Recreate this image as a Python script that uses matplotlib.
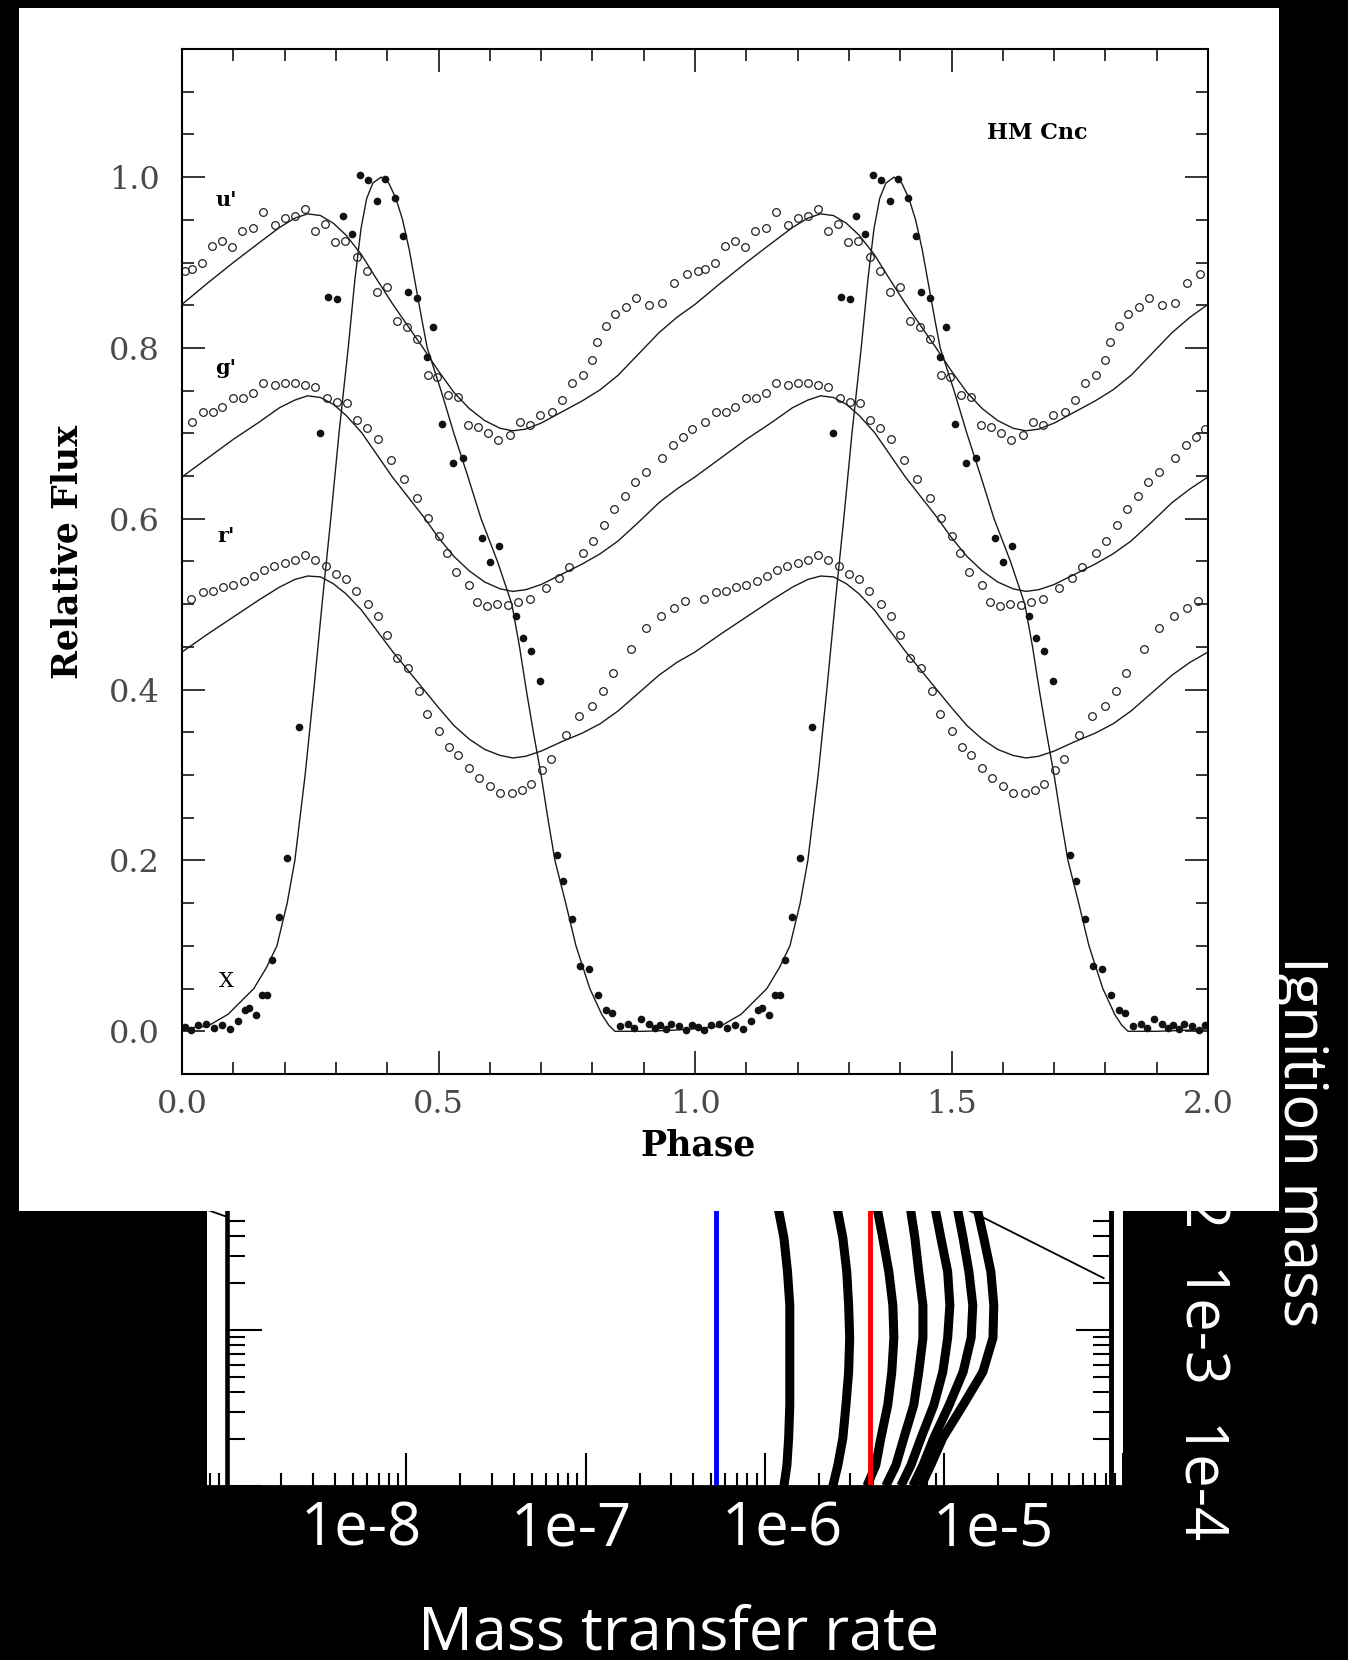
import matplotlib.pyplot as plt
import numpy as np
from matplotlib import patches
from matplotlib.ticker import MultipleLocator, LogLocator, NullFormatter, FuncFormatter, NullLocator

plt.rcParams["font.family"] = ["DejaVu Serif"]

# ---------------- HM Cnc light curve, one cycle (phase 0-1), drawn twice ----------------
model_phase = [0.00, 0.05, 0.10, 0.15, 0.19, 0.22, 0.245, 0.27, 0.295, 0.32, 0.35, 0.38, 0.41, 0.44,
               0.47, 0.50, 0.53, 0.56, 0.59, 0.62, 0.645, 0.67, 0.70, 0.74, 0.78, 0.815, 0.85, 0.89,
               0.93, 0.965]
u_model = [0.851, 0.876, 0.900, 0.923, 0.941, 0.952, 0.957, 0.955, 0.946, 0.932, 0.909, 0.880, 0.852,
           0.826, 0.800, 0.773, 0.748, 0.729, 0.715, 0.706, 0.703, 0.705, 0.712, 0.725, 0.738, 0.751,
           0.768, 0.793, 0.818, 0.836]
g_model = [0.649, 0.671, 0.693, 0.713, 0.730, 0.739, 0.744, 0.742, 0.734, 0.721, 0.701, 0.675, 0.649,
           0.626, 0.603, 0.578, 0.556, 0.539, 0.526, 0.518, 0.515, 0.517, 0.523, 0.535, 0.547, 0.559,
           0.574, 0.596, 0.619, 0.635]
r_model = [0.444, 0.465, 0.485, 0.505, 0.520, 0.529, 0.533, 0.532, 0.524, 0.512, 0.493, 0.469, 0.445,
           0.423, 0.401, 0.379, 0.358, 0.342, 0.330, 0.323, 0.320, 0.322, 0.328, 0.339, 0.349, 0.360,
           0.375, 0.396, 0.417, 0.432]

xray_model_phase = [0.00, 0.05, 0.09, 0.14, 0.165, 0.185, 0.205, 0.22, 0.24, 0.257, 0.273, 0.29, 0.306,
                    0.324, 0.337, 0.349, 0.360, 0.372, 0.388, 0.403, 0.417, 0.43, 0.443, 0.455, 0.467,
                    0.478, 0.505, 0.53, 0.557, 0.583, 0.615, 0.643, 0.658, 0.671, 0.685, 0.70, 0.713,
                    0.727, 0.748, 0.768, 0.795, 0.818, 0.832, 0.844, 0.90, 0.95]
xray_model = [0.003, 0.006, 0.020, 0.050, 0.075, 0.100, 0.150, 0.200, 0.300, 0.400, 0.500, 0.600, 0.700,
              0.800, 0.880, 0.940, 0.975, 0.993, 1.000, 0.993, 0.975, 0.950, 0.915, 0.875, 0.835,
              0.800, 0.750, 0.700, 0.650, 0.600, 0.550, 0.500, 0.450, 0.400, 0.350, 0.300, 0.250,
              0.200, 0.150, 0.100, 0.050, 0.020, 0.007, 0.000, 0.000, 0.001]

u_phase = [0.005, 0.020, 0.039, 0.058, 0.078, 0.097, 0.117, 0.138, 0.158, 0.181, 0.201, 0.220, 0.240,
           0.259, 0.279, 0.298, 0.318, 0.341, 0.360, 0.380, 0.400, 0.419, 0.439, 0.458, 0.480, 0.497,
           0.519, 0.538, 0.558, 0.577, 0.597, 0.616, 0.639, 0.659, 0.678, 0.698, 0.721, 0.741, 0.760,
           0.782, 0.799, 0.809, 0.826, 0.845, 0.865, 0.885, 0.910, 0.935, 0.960, 0.985]
u_flux = [0.890, 0.893, 0.900, 0.919, 0.925, 0.918, 0.937, 0.941, 0.959, 0.944, 0.952, 0.954, 0.963,
          0.937, 0.945, 0.924, 0.925, 0.907, 0.890, 0.866, 0.871, 0.831, 0.824, 0.810, 0.768, 0.766,
          0.745, 0.743, 0.710, 0.707, 0.700, 0.692, 0.698, 0.713, 0.710, 0.721, 0.725, 0.739, 0.759,
          0.768, 0.786, 0.807, 0.826, 0.840, 0.848, 0.858, 0.850, 0.853, 0.876, 0.887]

g_phase = [0.019, 0.041, 0.060, 0.078, 0.099, 0.119, 0.138, 0.158, 0.181, 0.200, 0.220, 0.240, 0.259,
           0.283, 0.302, 0.322, 0.341, 0.360, 0.382, 0.407, 0.433, 0.458, 0.480, 0.500, 0.517, 0.534,
           0.559, 0.575, 0.595, 0.615, 0.635, 0.655, 0.678, 0.709, 0.734, 0.754, 0.781, 0.802, 0.822,
           0.843, 0.864, 0.884, 0.905, 0.936, 0.957, 0.977, 0.994]
g_flux = [0.713, 0.725, 0.725, 0.731, 0.741, 0.741, 0.747, 0.759, 0.757, 0.759, 0.759, 0.757, 0.754,
          0.741, 0.737, 0.735, 0.716, 0.706, 0.693, 0.669, 0.646, 0.624, 0.601, 0.580, 0.560, 0.538,
          0.523, 0.503, 0.498, 0.500, 0.499, 0.503, 0.506, 0.519, 0.531, 0.543, 0.560, 0.574, 0.593,
          0.612, 0.627, 0.643, 0.655, 0.671, 0.686, 0.696, 0.705]

r_phase = [0.018, 0.040, 0.060, 0.080, 0.100, 0.120, 0.140, 0.160, 0.180, 0.200, 0.220, 0.240, 0.260,
           0.280, 0.300, 0.320, 0.340, 0.362, 0.382, 0.400, 0.419, 0.441, 0.462, 0.478, 0.500, 0.520,
           0.538, 0.559, 0.579, 0.600, 0.620, 0.643, 0.663, 0.680, 0.702, 0.720, 0.748, 0.774, 0.800,
           0.820, 0.840, 0.875, 0.905, 0.934, 0.959, 0.980]
r_flux = [0.506, 0.514, 0.516, 0.520, 0.522, 0.527, 0.533, 0.540, 0.545, 0.548, 0.552, 0.558, 0.552,
          0.545, 0.535, 0.530, 0.515, 0.500, 0.486, 0.464, 0.437, 0.425, 0.398, 0.371, 0.351, 0.333,
          0.324, 0.308, 0.296, 0.287, 0.279, 0.279, 0.283, 0.289, 0.306, 0.319, 0.347, 0.369, 0.381,
          0.398, 0.420, 0.448, 0.472, 0.486, 0.495, 0.504]

xray_phase = [0.006, 0.018, 0.031, 0.047, 0.062, 0.078, 0.094, 0.109, 0.122, 0.131, 0.144, 0.155, 0.165,
              0.176, 0.190, 0.205, 0.229, 0.269, 0.285, 0.302, 0.314, 0.331, 0.347, 0.363, 0.380, 0.396,
              0.415, 0.431, 0.441, 0.458, 0.477, 0.489, 0.506, 0.528, 0.547, 0.585, 0.600, 0.618, 0.651,
              0.664, 0.680, 0.698, 0.731, 0.743, 0.760, 0.776, 0.793, 0.810, 0.827, 0.838, 0.853, 0.869,
              0.882, 0.894, 0.911, 0.922, 0.932, 0.944, 0.953, 0.969, 0.982, 0.994]
xray_flux = [0.005, 0.002, 0.007, 0.009, 0.004, 0.007, 0.003, 0.012, 0.025, 0.027, 0.019, 0.042, 0.043,
             0.083, 0.134, 0.203, 0.356, 0.700, 0.860, 0.857, 0.954, 0.933, 1.002, 0.997, 0.972, 0.998,
             0.975, 0.931, 0.865, 0.859, 0.789, 0.825, 0.711, 0.665, 0.671, 0.577, 0.549, 0.568, 0.486,
             0.460, 0.445, 0.410, 0.206, 0.176, 0.131, 0.076, 0.073, 0.043, 0.025, 0.021, 0.006, 0.009,
             0.004, 0.014, 0.009, 0.004, 0.007, 0.003, 0.009, 0.006, 0.002, 0.007]

band_names = ["u'", "g'", "r'", "X"]
band_label_flux = [0.973, 0.777, 0.580, 0.058]

# ---------------- ignition mass vs mass transfer rate ----------------
ign_mass = [1.0e-2, 5.7e-3, 3.89e-3, 2.36e-3, 1.44e-3, 8.9e-4, 5.38e-4, 3.3e-4, 2.03e-4, 1.36e-4, 1.0e-4]
track_rates = [
    [1.10e-6, 1.20e-6, 1.28e-6, 1.34e-6, 1.38e-6, 1.38e-6, 1.38e-6, 1.38e-6, 1.36e-6, 1.33e-6, 1.28e-6],
    [2.40e-6, 2.56e-6, 2.73e-6, 2.87e-6, 2.94e-6, 2.98e-6, 2.94e-6, 2.84e-6, 2.73e-6, 2.56e-6, 2.40e-6],
    [4.00e-6, 4.28e-6, 4.56e-6, 4.93e-6, 5.19e-6, 5.26e-6, 5.12e-6, 4.86e-6, 4.45e-6, 4.17e-6, 3.72e-6],
    [6.20e-6, 6.55e-6, 6.89e-6, 7.24e-6, 7.64e-6, 7.64e-6, 7.24e-6, 6.79e-6, 5.98e-6, 5.40e-6, 4.74e-6],
    [8.50e-6, 9.02e-6, 9.62e-6, 1.05e-5, 1.08e-5, 1.05e-5, 9.86e-6, 8.79e-6, 7.45e-6, 6.55e-6, 5.75e-6],
    [1.13e-5, 1.20e-5, 1.28e-5, 1.38e-5, 1.45e-5, 1.42e-5, 1.28e-5, 1.07e-5, 8.79e-6, 7.64e-6, 6.71e-6],
    [1.45e-5, 1.55e-5, 1.67e-5, 1.83e-5, 1.90e-5, 1.88e-5, 1.65e-5, 1.28e-5, 9.86e-6, 8.45e-6, 7.45e-6],
]
blue_rate = 5.32e-7
red_rate = 3.86e-6
diag_rate = [1.18e-5, 7.8e-5]
diag_mass = [6.4e-3, 2.15e-3]
edge_rate = [7.7e-10, 1.0e-9]
edge_mass = [5.9e-3, 5.3e-3]
rate_labels = [1e-8, 1e-7, 1e-6, 1e-5]

W, H = 1348, 1660


def rect(x0, y0, x1, y1):
    return [x0 / W, 1 - y1 / H, (x1 - x0) / W, (y1 - y0) / H]


def two_cycles(phase, vals, close=False):
    p = np.concatenate([phase, np.asarray(phase) + 1.0])
    v = np.concatenate([vals, vals])
    if close:
        p = np.append(p, 2.0)
        v = np.append(v, vals[0])
    return p, v


fig = plt.figure(figsize=(W / 100, H / 100), dpi=100, facecolor="black")

# ---- lower (background) plot ----
low = fig.add_axes(rect(207, 1100, 1123, 1486))
low.set_facecolor("white")
low.set_xscale("log")
low.set_yscale("log")
for rates in track_rates:
    low.plot(rates, ign_mass, color="black", lw=6.5, solid_capstyle="butt")
low.axvline(blue_rate, color="#0000ff", lw=3.5)
low.axvline(red_rate, color="#ff0000", lw=3.5)
low.plot(diag_rate, diag_mass, color="black", lw=1.3)
low.plot(edge_rate, edge_mass, color="black", lw=1.3)
low.set_xlim(7.7e-10, 1.0e-4)
low.set_ylim(1e-4, 2.98e-2)

low.spines["top"].set_visible(False)
low.spines["left"].set_position(("data", 1e-9))
low.spines["right"].set_position(("data", 8.57e-5))
low.spines["left"].set_linewidth(3.3)
low.spines["right"].set_linewidth(3.5)
low.spines["bottom"].set_linewidth(2)

low.xaxis.set_major_locator(LogLocator(base=10, numticks=30))
low.xaxis.set_minor_locator(LogLocator(base=10, subs=np.arange(2, 10), numticks=30))
low.xaxis.set_minor_formatter(NullFormatter())
low.yaxis.set_major_locator(LogLocator(base=10, numticks=30))
low.yaxis.set_minor_locator(LogLocator(base=10, subs=np.arange(2, 10), numticks=30))
low.yaxis.set_minor_formatter(NullFormatter())
low.yaxis.set_major_formatter(FuncFormatter(lambda v, pos: f"1e{int(round(np.log10(v)))}"))

low.tick_params(axis="x", which="major", direction="in", length=24, width=1.5,
                top=False, labelbottom=False)
low.tick_params(axis="x", which="minor", direction="in", length=9.5, width=1.5, top=False)
low.tick_params(axis="y", which="major", direction="in", length=25, width=1.5,
                left=True, right=True, labelleft=False, labelright=True,
                labelsize=43, labelcolor="white", labelrotation=-90, pad=40)
low.tick_params(axis="y", which="minor", direction="in", length=13, width=1.5, left=True, right=True)
for t in low.yaxis.get_major_ticks():
    t.label2.set_fontfamily("Open Sans")
    t.label2.set_va("center")

low.set_ylabel("Ignition mass", fontsize=43, color="white", rotation=-90, fontfamily="Open Sans")
low.yaxis.set_label_position("right")
low.yaxis.set_label_coords((1300 - 207) / 916, (1486 - 1141) / 386)
low.yaxis.label.set_va("center")
low.yaxis.label.set_ha("center")

# tick labels of the rate axis as they sit in the picture
lab = fig.add_axes(rect(207, 1100, 1123, 1486))
lab.patch.set_visible(False)
for s in lab.spines.values():
    s.set_visible(False)
lab.set_xscale("log")
lab.set_xlim(10 ** -8.731, 10 ** -4.383)
lab.set_yticks([])
lab.xaxis.set_minor_locator(NullLocator())
lab.set_xticks(rate_labels, [f"1e{int(round(np.log10(v)))}" for v in rate_labels],
               fontsize=43, color="white", fontfamily="Open Sans")
lab.tick_params(axis="x", length=0, pad=10)
lab.set_xlabel("Mass transfer rate", fontsize=44, color="white", fontfamily="Open Sans")
lab.xaxis.set_label_coords((679 - 207) / 916, -(1633 - 1486) / 386)
lab.xaxis.label.set_va("center")

# ---- white panel with the light curve ----
fig.add_artist(patches.Rectangle((19 / W, 1 - 1211 / H), 1260 / W, 1203 / H,
                                 transform=fig.transFigure, facecolor="white",
                                 edgecolor="none", zorder=1))

lc = fig.add_axes(rect(182, 49, 1208, 1074), zorder=2)
for mod in [u_model, g_model, r_model]:
    p, v = two_cycles(model_phase, mod, close=True)
    lc.plot(p, v, color="#1a1a1a", lw=1.0)
p, v = two_cycles(xray_model_phase, xray_model, close=True)
lc.plot(p, v, color="#1a1a1a", lw=1.0)

for ph, fl in [(u_phase, u_flux), (g_phase, g_flux), (r_phase, r_flux)]:
    p, v = two_cycles(ph, fl)
    lc.plot(p, v, "o", mfc="none", mec="#222222", ms=5.5, mew=0.9)
p, v = two_cycles(xray_phase, xray_flux)
lc.plot(p, v, "o", color="#111111", ms=4.5)

for name, yv in zip(band_names, band_label_flux):
    lc.text(0.086, yv, name, ha="center", va="center", fontsize=15,
            fontweight="bold" if name != "X" else "normal")
lc.text(1.667, 1.052, "HM Cnc", ha="center", va="center", fontsize=16, fontweight="bold")

lc.set_xlim(0, 2)
lc.set_ylim(-0.05, 1.15)
lc.xaxis.set_major_locator(MultipleLocator(0.5))
lc.xaxis.set_minor_locator(MultipleLocator(0.1))
lc.yaxis.set_major_locator(MultipleLocator(0.2))
lc.yaxis.set_minor_locator(MultipleLocator(0.05))
lc.xaxis.set_major_formatter(FuncFormatter(lambda v, pos: f"{v:.1f}"))
lc.yaxis.set_major_formatter(FuncFormatter(lambda v, pos: f"{v:.1f}"))
lc.tick_params(which="both", direction="in", top=True, right=True, width=1.1)
lc.tick_params(which="major", length=16.5, labelsize=23, labelcolor="#4a4a4a")
lc.tick_params(which="minor", length=8.5)
lc.tick_params(axis="y", pad=16)
lc.tick_params(axis="x", pad=11)
for s in lc.spines.values():
    s.set_linewidth(1.5)

lc.set_ylabel("Relative Flux", fontsize=25, fontweight="bold")
lc.yaxis.set_label_coords((67 - 182) / 1026, (1074 - 552) / 1025)
lc.yaxis.label.set_va("center")
lc.set_xlabel("Phase", fontsize=25, fontweight="bold")
lc.xaxis.set_label_coords((698 - 182) / 1026, -(1146 - 1074) / 1025)
lc.xaxis.label.set_va("center")

fig.savefig("out.png", dpi=100, facecolor="black")
